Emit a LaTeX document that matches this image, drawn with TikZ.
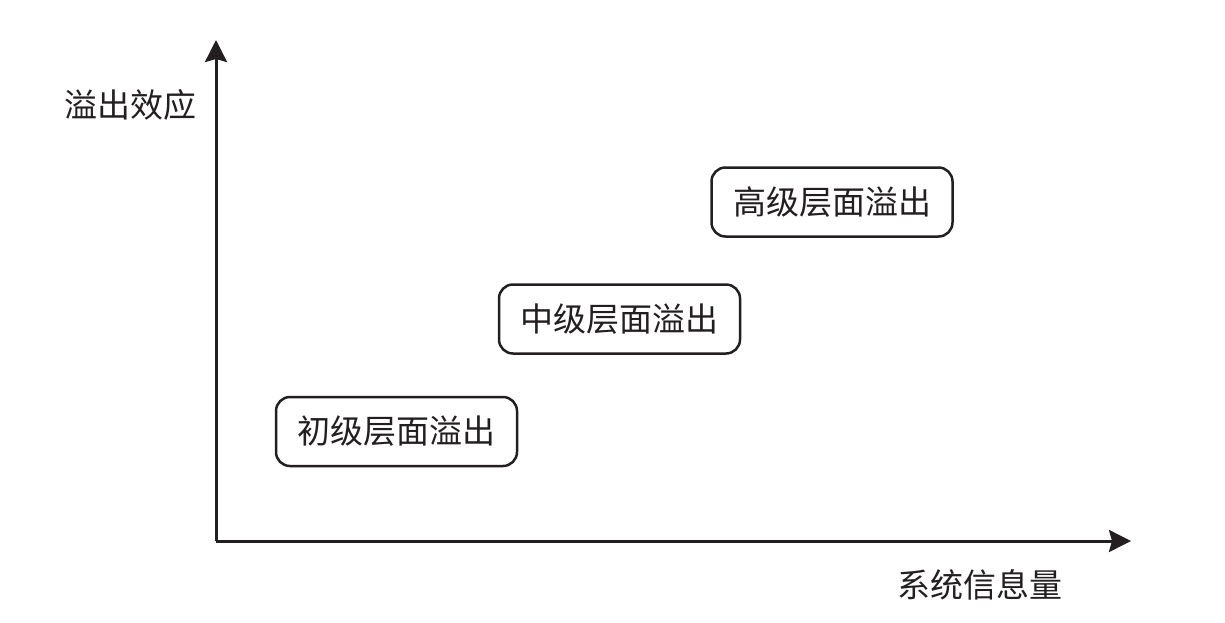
\documentclass[tikz,border=0pt]{standalone}
\usepackage{fontspec}
\setmainfont{Noto Sans CJK SC}
\usepackage{tikz}
\usetikzlibrary{arrows.meta,positioning}
\definecolor{Ink}{HTML}{231F20}
\tikzset{
  axis/.style={-{Stealth[length=22pt,width=22pt,inset=3pt]},line width=3pt,draw=Ink},
  level/.style={draw=Ink,line width=2.5pt,rounded corners=14pt,minimum width=241pt,minimum height=69pt,
    inner sep=0pt,text=Ink,font=\fontsize{33}{36}\selectfont},
  axislabel/.style={text=Ink,font=\fontsize{33}{36}\selectfont,inner sep=0pt}
}
\begin{document}
\begin{tikzpicture}[x=1pt,y=-1pt]
\useasboundingbox (0,0) rectangle (1225,622);
\coordinate (origin) at (216,541);
\coordinate (ytop) at (216,40);
\coordinate (xend) at (1131,541);
\draw[axis] (origin)--(ytop);
\draw[axis] (origin)--(xend);
\node[axislabel] (effect) at (130,105) {溢出效应};
\node[axislabel] (info) at (980,585) {系统信息量};
\node[level] (low) at (396.5,431.5) {初级层面溢出};
\node[level] (mid) at (619.5,319) {中级层面溢出};
\node[level] (high) at (832,202) {高级层面溢出};
\end{tikzpicture}
\end{document}
